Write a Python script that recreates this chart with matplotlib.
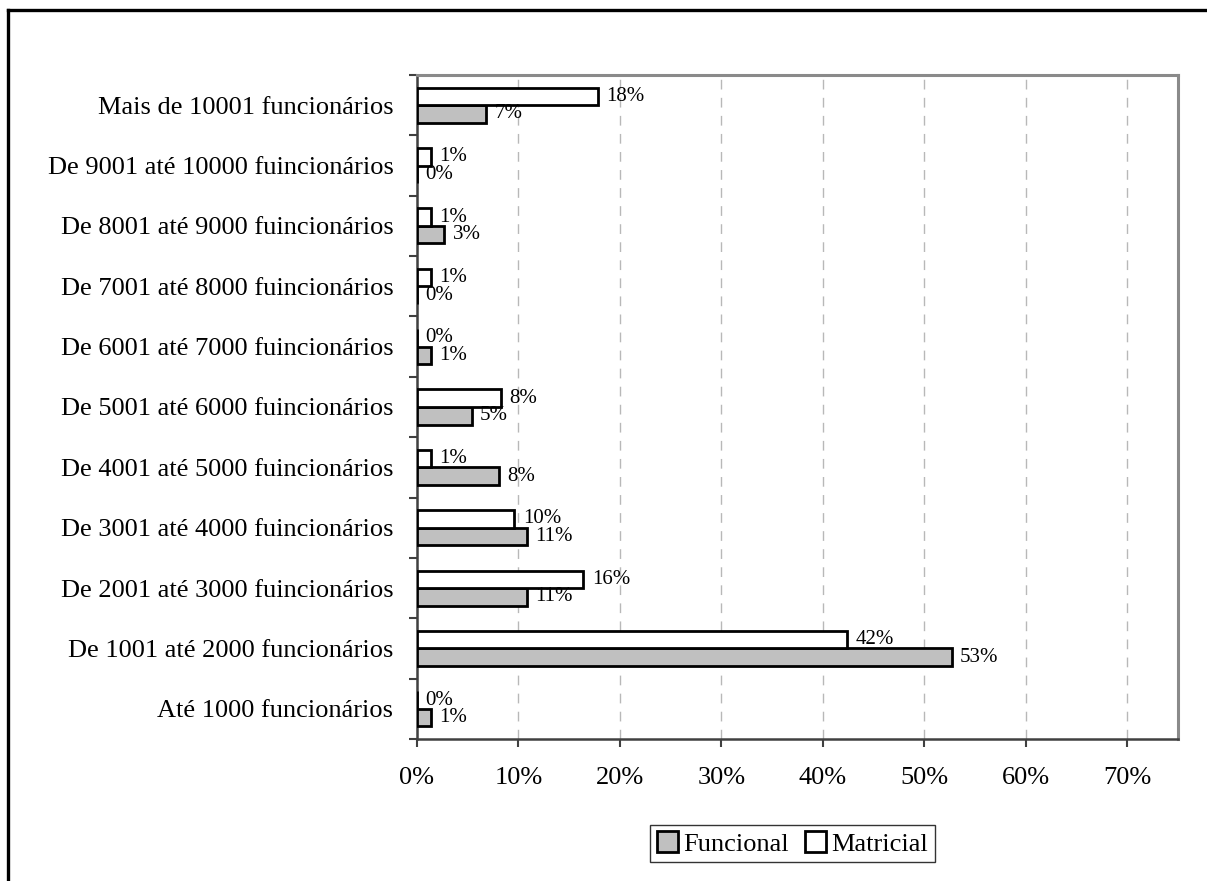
import matplotlib
matplotlib.use("Agg")
import matplotlib.pyplot as plt
import numpy as np
from matplotlib.lines import Line2D

plt.rcParams['font.family'] = ['Liberation Serif', 'DejaVu Serif']

categories = [
    "Até 1000 funcionários",
    "De 1001 até 2000 funcionários",
    "De 2001 até 3000 fuincionários",
    "De 3001 até 4000 fuincionários",
    "De 4001 até 5000 fuincionários",
    "De 5001 até 6000 fuincionários",
    "De 6001 até 7000 fuincionários",
    "De 7001 até 8000 fuincionários",
    "De 8001 até 9000 fuincionários",
    "De 9001 até 10000 fuincionários",
    "Mais de 10001 funcionários",
]
funcional = [1.4, 52.7, 10.8, 10.8, 8.1, 5.4, 1.4, 0.0, 2.7, 0.0, 6.8]
matricial = [0.0, 42.4, 16.4, 9.6, 1.4, 8.3, 0.0, 1.4, 1.4, 1.4, 17.8]
xticks = [0, 10, 20, 30, 40, 50, 60, 70]

fig = plt.figure(figsize=(12.07, 8.81), dpi=100)
ax = fig.add_axes([417/1207, 1-739/881, (1178-417)/1207, (739-75)/881])

y = np.arange(len(categories))
h = 0.29
b_f = ax.barh(y - h/2, funcional, height=h, color='#c0c0c0', edgecolor='black',
              linewidth=2.0, label='Funcional', zorder=3)
b_m = ax.barh(y + h/2, matricial, height=h, color='white', edgecolor='black',
              linewidth=2.0, label='Matricial', zorder=3)

for bars, vals in ((b_f, funcional), (b_m, matricial)):
    for rect, v in zip(bars, vals):
        ax.annotate('%.0f%%' % v, (v, rect.get_y() + rect.get_height()/2),
                    xytext=(6, 0), textcoords='offset points',
                    ha='left', va='center', fontsize=15, zorder=4)

ax.set_xlim(0, 75)
ax.set_ylim(-0.5, len(categories) - 0.5)
ax.set_xticks(xticks)
ax.set_xticklabels(['%d%%' % t for t in xticks], fontsize=19)
ax.set_yticks(y)
ax.set_yticklabels(categories, fontsize=19)
ax.set_yticks(np.arange(-0.5, len(categories), 1.0), minor=True)
ax.tick_params(axis='y', which='major', length=0, pad=17)
ax.tick_params(axis='y', which='minor', length=6, width=1.5, color='#404040', direction='out')
ax.tick_params(axis='x', which='major', length=6, width=1.5, color='#404040', direction='out', pad=14)

ax.xaxis.grid(True, linestyle=(0, (7, 6)), color='#b8b8b8', linewidth=1.0, zorder=0)
ax.set_axisbelow(True)

for s in ('left', 'bottom'):
    ax.spines[s].set_color('#404040')
    ax.spines[s].set_linewidth(1.8)
for s in ('top', 'right'):
    ax.spines[s].set_color('#8a8a8a')
    ax.spines[s].set_linewidth(2.2)

leg = fig.legend(handles=[b_f, b_m], labels=['Funcional', 'Matricial'], ncol=2,
                 loc='center', bbox_to_anchor=((648+937)/2/1207, 1-(823+864)/2/881),
                 fontsize=19, frameon=True, fancybox=False, edgecolor='black',
                 handlelength=0.8, handleheight=0.8, handletextpad=0.2,
                 columnspacing=0.6, borderpad=0.25, borderaxespad=0)
leg.get_frame().set_linewidth(1.0)

fig.add_artist(Line2D([8/1207, 1.0], [1-10/881, 1-10/881], transform=fig.transFigure,
                      color='black', linewidth=2.4))
fig.add_artist(Line2D([8/1207, 8/1207], [1-10/881, 0.0], transform=fig.transFigure,
                      color='black', linewidth=2.4))

fig.savefig('out.png', dpi=100)
